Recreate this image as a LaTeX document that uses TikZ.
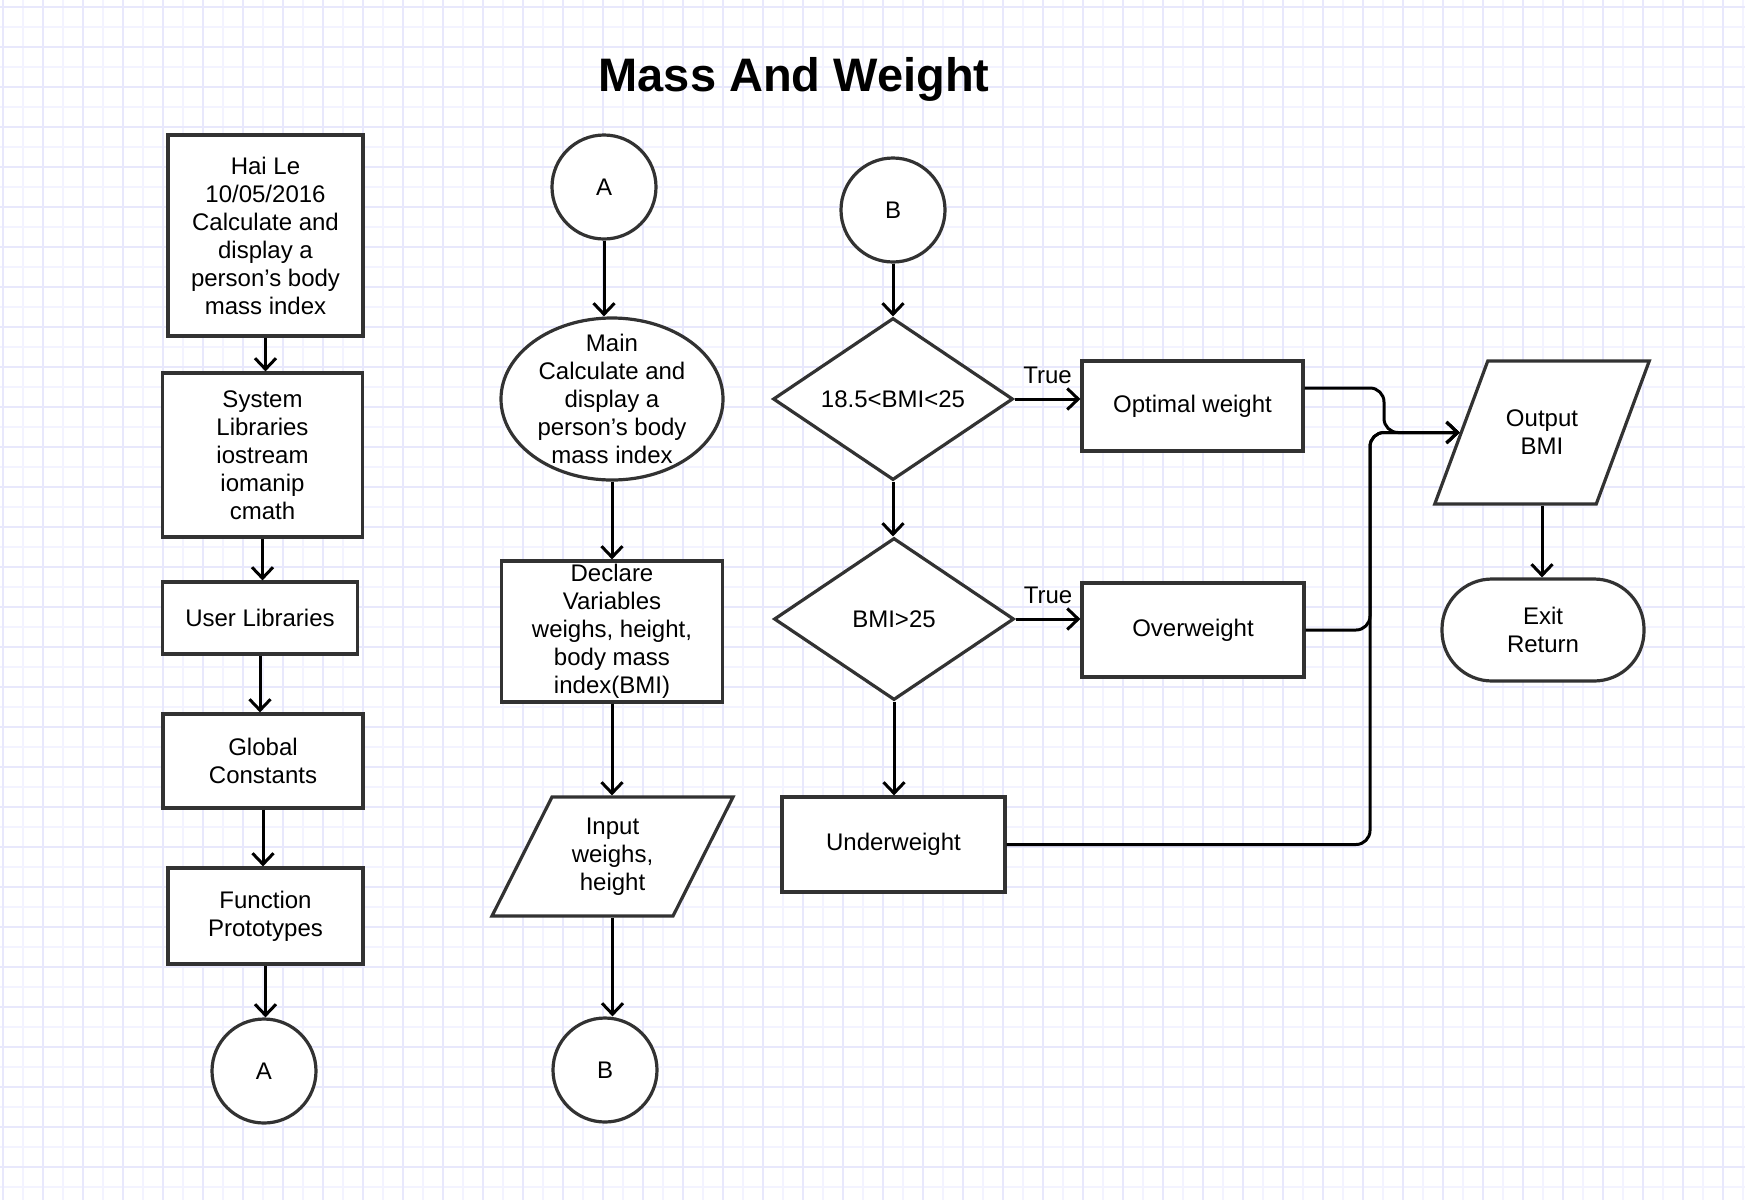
\documentclass[tikz,border=0pt]{standalone}
\usepackage{fontspec}
\setmainfont{Liberation Sans}
\usetikzlibrary{shapes.geometric,arrows.meta,positioning}

\definecolor{gridmajor}{RGB}{232,232,252}
\definecolor{gridminor}{RGB}{243,243,255}
\definecolor{edge}{RGB}{50,50,50}

\newcommand{\drawgrid}[2]
{\foreach \x in {23,63,...,#1}
		{\draw[gridminor,line width=1.3pt] (\x,0)--(\x,#2);
			};
\foreach \y in {27,67,...,#2}
		{\draw[gridminor,line width=1.3pt] (0,\y)--(#1,\y);
			};
\foreach \x in {3,43,...,#1}
		{\draw[gridmajor,line width=1.6pt] (\x,0)--(\x,#2);
			};
\foreach \y in {7,47,...,#2}
		{\draw[gridmajor,line width=1.6pt] (0,\y)--(#1,\y);
			};
}
% name, centre, middle width, height, half slant, text
\newcommand{\iobox}[6]
{\draw[edge,line width=3.2pt,fill=white,shift={#2}] (-#3/2+#5,-#4/2) -- (#3/2+#5,-#4/2) -- (#3/2-#5,#4/2) -- (-#3/2-#5,#4/2) -- cycle;
\node[procbox,draw=none,fill=none,minimum width=#3pt,minimum height=#4pt] (#1) at #2 {#6};
}

\tikzset{
	shapebase/.style={draw=edge,line width=3.2pt,fill=white,align=center,inner sep=0pt,font=\fontsize{24}{28}\selectfont},
	procbox/.style={shapebase,rectangle},
	connector/.style={shapebase,circle,minimum size=104pt},
	decbox/.style={shapebase,diamond,minimum width=240pt,minimum height=162pt},
	startbox/.style={shapebase,ellipse,inner xsep=0pt,inner ysep=-12pt,minimum width=222pt,minimum height=162pt},
	termbox/.style={shapebase,rectangle,rounded corners=50pt},
	flow/.style={->,line width=3pt,black},
	truelabel/.style={above=14pt,font=\fontsize{24}{28}\selectfont,inner sep=0pt}
}

\begin{document}
\begin{tikzpicture}[x=1pt,y=-1pt,>={Straight Barb[length=11pt,width=21pt]}]
\useasboundingbox (0,0) rectangle (1745,1200);
\fill[white] (0,0) rectangle (1745,1200);
\drawgrid{1745}{1200}

\node (title) at (794,79) {\fontsize{47}{56}\selectfont\bfseries Mass And Weight};

% first column
\node[procbox,minimum width=195pt,minimum height=201pt] (hai) at (265.5,235.5) {Hai Le\\10/05/2016\\Calculate and\\display a\\person's body\\mass index};
\node[procbox,minimum width=200pt,minimum height=164pt] (syslib) at (262.5,455) {System\\Libraries\\iostream\\iomanip\\cmath};
\node[procbox,minimum width=195pt,minimum height=72pt] (userlib) at (260,618) {User Libraries};
\node[procbox,minimum width=200pt,minimum height=94pt] (glob) at (263,761) {Global\\Constants};
\node[procbox,minimum width=195pt,minimum height=96pt] (proto) at (265.5,916) {Function\\Prototypes};
\node[connector] (conA) at (264,1071) {A};

\foreach \a/\b in {hai/syslib,syslib/userlib,userlib/glob,glob/proto,proto/conA}
	\draw[flow] (\a.south) -- (\a.south |- \b.north);

% second column
\node[connector] (conAA) at (604,187) {A};
\node[startbox] (main) at (612,399) {Main\\Calculate and\\display a\\person's body\\mass index};
\node[procbox,minimum width=221pt,minimum height=141pt] (decl) at (612,631.5) {Declare\\Variables\\weighs, height,\\body mass\\index(BMI)};
\iobox{inp}{(612.5,856.5)}{181}{119}{30}{Input\\weighs,\\height}
\node[connector] (conBB) at (605,1070) {B};

\draw[flow] (conAA.south) -- (conAA.south |- main.north);
\draw[flow] (main.south) -- (main.south |- decl.north);
\draw[flow] (decl.south) -- (decl.south |- inp.north);
\draw[flow] (inp.south) -- (inp.south |- conBB.north);

% third column
\node[connector] (conB) at (893,210) {B};
\node[decbox] (dec1) at (893,399) {18.5<BMI<25};
\node[decbox] (dec2) at (894,619) {BMI>25};
\node[procbox,minimum width=223pt,minimum height=95pt] (under) at (893.5,844.5) {Underweight};
\node[procbox,minimum width=221pt,minimum height=90pt] (optimal) at (1192.5,406) {Optimal weight};
\node[procbox,minimum width=222pt,minimum height=94pt] (over) at (1193,630) {Overweight};

\draw[flow] (conB.south) -- (dec1.north);
\draw[flow] (dec1.south) -- (dec1.south |- dec2.north);
\draw[flow] (dec2.south) -- (dec2.south |- under.north);
\draw[flow] (dec1.east) -- node[truelabel] {True} (dec1.east -| optimal.west);
\draw[flow] (dec2.east) -- node[truelabel] {True} (dec2.east -| over.west);

% output and exit
\iobox{outp}{(1542,432.5)}{161.5}{143}{26.5}{Output\\BMI}
\node[termbox,minimum width=202pt,minimum height=102pt] (exitn) at (1543,630) {Exit\\Return};
\draw[flow] (outp.south) -- (outp.south |- exitn.north);

% joining lines
\coordinate (trunk) at (1370,432.5);
\coordinate (jog) at (1384,432.5);
\draw[flow,rounded corners=14pt] ([yshift=18pt]optimal.east) -| (jog) -- (outp.west);
\draw[flow,rounded corners=14pt] (over.east) -| (trunk) -- (outp.west);
\draw[flow,rounded corners=14pt] (under.east) -| (trunk) -- (outp.west);
\end{tikzpicture}
\end{document}
